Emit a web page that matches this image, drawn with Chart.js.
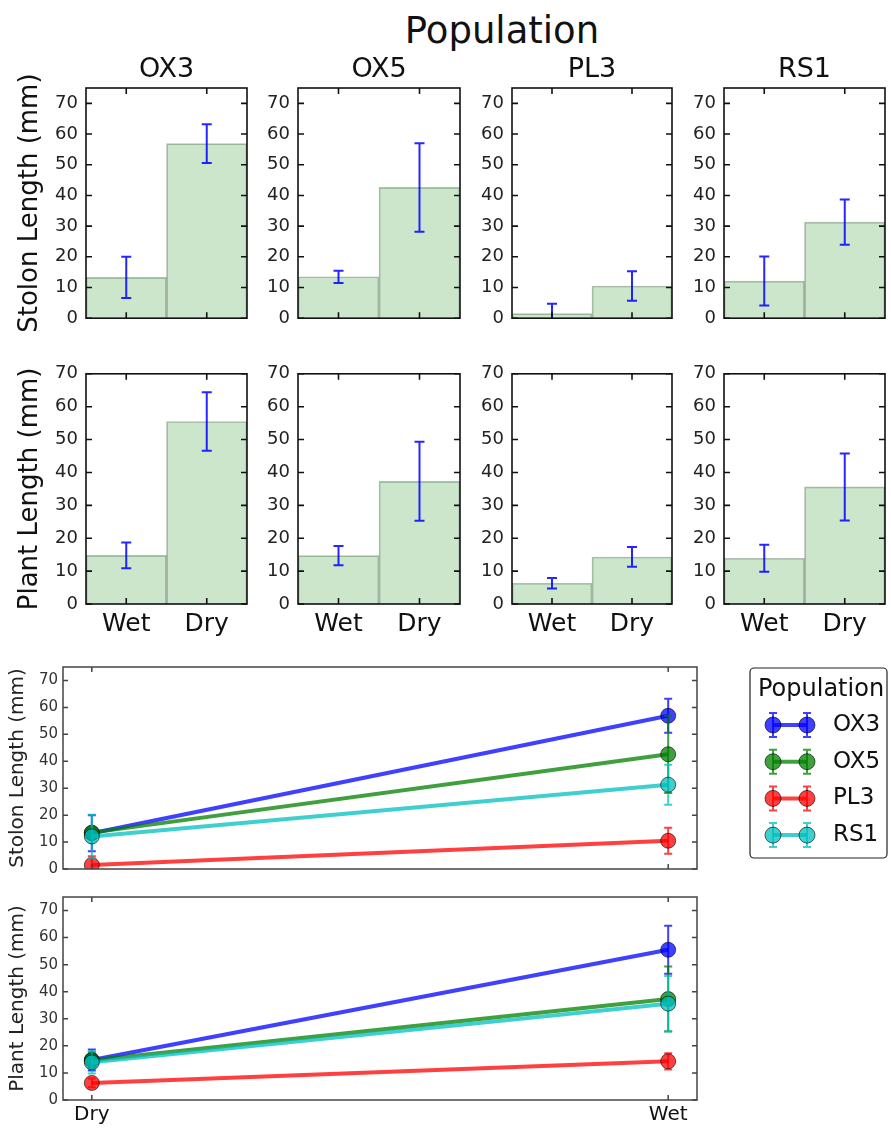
<!DOCTYPE html>
<html>
<head>
<meta charset="utf-8">
<script src="https://cdn.jsdelivr.net/npm/chart.js@4.4.1/dist/chart.umd.min.js"></script>
<style>
    body { margin: 0; background: #fff; }
    #wrap { position: relative; width: 891px; height: 1128px; overflow: hidden; font-family: "DejaVu Sans", sans-serif; }
    canvas { position: absolute; }
    #suptitle { position: absolute; left: 302px; top: 12px; width: 400px; text-align: center; font-size: 37px; line-height: 37px; color: #111; }
</style>
</head>
<body>
<div id="wrap"><div id="suptitle">Population</div></div>
<script>
// data
const populations = ['OX3', 'OX5', 'PL3', 'RS1'];
const conditions = ['Wet', 'Dry'];
const lineXLabels = ['Dry', 'Wet'];   // the bottom panels label the axis this way
const yTicks = [0, 10, 20, 30, 40, 50, 60, 70];

const stolonWet = [13.3, 13.5, 1.5, 12.1];
const stolonDry = [56.9, 42.6, 10.5, 31.3];
const stolonWetErr = [6.7, 2.0, 3.2, 8.0];
const stolonDryErr = [6.3, 14.4, 4.8, 7.4];

const plantWet = [14.8, 14.7, 6.3, 13.9];
const plantDry = [55.5, 37.3, 14.3, 35.6];
const plantWetErr = [3.9, 2.9, 1.6, 4.1];
const plantDryErr = [8.9, 12.0, 3.0, 10.2];

const lineColors = ['rgba(0,0,255,0.75)', 'rgba(0,128,0,0.75)', 'rgba(255,0,0,0.75)', 'rgba(0,191,191,0.75)'];

Chart.defaults.font.family = '"DejaVu Sans", sans-serif';
Chart.defaults.color = '#1a1a1a';

// matplotlib-like box with inward ticks on all four sides
const framePlugin = {
    id: 'frame',
    defaults: { color: '#111', width: 1.6, tick: 6 },
    afterDraw(chart, args, opts) {
        const { ctx, chartArea: a, scales } = chart;
        ctx.save();
        ctx.strokeStyle = opts.color;
        ctx.lineWidth = opts.width;
        ctx.beginPath();
        scales.y.ticks.forEach((t, i) => {
            const py = scales.y.getPixelForTick(i);
            ctx.moveTo(a.left, py); ctx.lineTo(a.left + opts.tick, py);
            ctx.moveTo(a.right, py); ctx.lineTo(a.right - opts.tick, py);
        });
        scales.x.ticks.forEach((t, i) => {
            const px = scales.x.getPixelForTick(i);
            ctx.moveTo(px, a.bottom); ctx.lineTo(px, a.bottom - opts.tick);
            ctx.moveTo(px, a.top); ctx.lineTo(px, a.top + opts.tick);
        });
        ctx.stroke();
        ctx.strokeRect(a.left, a.top, a.right - a.left, a.bottom - a.top);
        ctx.restore();
    }
};

function drawErrors(chart, di, opts) {
    const ds = chart.data.datasets[di];
    if (!ds.errors) return;
    const { ctx, chartArea: a } = chart;
    const yScale = chart.scales.y;
    const meta = chart.getDatasetMeta(di);
    ctx.save();
    ctx.beginPath();
    ctx.rect(a.left, a.top, a.right - a.left, a.bottom - a.top);
    ctx.clip();
    ctx.strokeStyle = opts.color || ds.borderColor;
    ctx.lineWidth = opts.width;
    meta.data.forEach((el, i) => {
        const d = ds.data[i];
        const v = typeof d === 'object' ? d.y : d;
        const e = ds.errors[i];
        const yTop = yScale.getPixelForValue(v + e);
        const yBot = yScale.getPixelForValue(v - e);
        ctx.beginPath();
        ctx.moveTo(el.x, yTop); ctx.lineTo(el.x, yBot);
        ctx.moveTo(el.x - opts.cap, yTop); ctx.lineTo(el.x + opts.cap, yTop);
        ctx.moveTo(el.x - opts.cap, yBot); ctx.lineTo(el.x + opts.cap, yBot);
        ctx.stroke();
    });
    ctx.restore();
}

const errorBarPlugin = {
    id: 'errorBars',
    defaults: { under: false, width: 2, cap: 5, color: null },
    beforeDatasetDraw(chart, args, opts) { if (opts.under) drawErrors(chart, args.index, opts); },
    afterDatasetDraw(chart, args, opts) { if (!opts.under) drawErrors(chart, args.index, opts); }
};

// boxed legend with errorbar markers, like the matplotlib one
const boxLegendPlugin = {
    id: 'boxLegend',
    defaults: { display: false },
    afterDraw(chart, args, o) {
        if (!o.display) return;
        const ctx = chart.ctx;
        ctx.save();
        ctx.beginPath();
        ctx.roundRect(o.x, o.y, o.w, o.h, 4);
        ctx.fillStyle = '#fff';
        ctx.fill();
        ctx.strokeStyle = '#222';
        ctx.lineWidth = 1.2;
        ctx.stroke();
        ctx.fillStyle = '#111';
        ctx.textBaseline = 'middle';
        ctx.font = '24px "DejaVu Sans"';
        ctx.fillText(o.title, o.x + 8, o.titleY);
        ctx.font = '23px "DejaVu Sans"';
        chart.data.datasets.forEach((ds, i) => {
            const cy = o.rowY + i * o.rowGap;
            ctx.strokeStyle = ds.borderColor;
            ctx.lineWidth = 4;
            ctx.beginPath();
            ctx.moveTo(o.m1, cy); ctx.lineTo(o.m2, cy);
            ctx.stroke();
            [o.m1, o.m2].forEach(mx => {
                ctx.lineWidth = 2;
                ctx.beginPath();
                ctx.moveTo(mx, cy - 12); ctx.lineTo(mx, cy + 12);
                ctx.moveTo(mx - 4, cy - 12); ctx.lineTo(mx + 4, cy - 12);
                ctx.moveTo(mx - 4, cy + 12); ctx.lineTo(mx + 4, cy + 12);
                ctx.stroke();
                ctx.beginPath();
                ctx.arc(mx, cy, 8, 0, Math.PI * 2);
                ctx.fillStyle = ds.pointBackgroundColor;
                ctx.fill();
                ctx.strokeStyle = 'rgba(0,0,0,0.6)';
                ctx.lineWidth = 1;
                ctx.stroke();
                ctx.strokeStyle = ds.borderColor;
            });
            ctx.fillStyle = '#111';
            ctx.fillText(ds.label, o.textX, cy);
        });
        ctx.restore();
    }
};

Chart.register(framePlugin, errorBarPlugin, boxLegendPlugin);

const wrap = document.getElementById('wrap');
function makeCanvas(left, top, w, h) {
    const c = document.createElement('canvas');
    c.width = w; c.height = h;
    c.style.left = left + 'px';
    c.style.top = top + 'px';
    wrap.appendChild(c);
    return c;
}

// plot box positions in the page
const colLeft = [86, 298, 512, 724];
const colRight = [247, 460, 672, 885];

function barPanel(col, row, wet, dry, wetErr, dryErr) {
    const first = col === 0;
    const yW = first ? 86 : 45;
    const left = colLeft[col] - yW;
    const width = yW + (colRight[col] - colLeft[col]) + 6;
    const top = row === 0 ? 56 : 355;
    const padTop = row === 0 ? 0 : 14;
    const xH = row === 0 ? 14 : 40;
    const height = (row === 0 ? 32 : 14) + 235 + xH;
    const canvas = makeCanvas(left, top, width, height);

    new Chart(canvas, {
        type: 'bar',
        data: {
            labels: conditions,
            datasets: [{
                data: [wet, dry],
                errors: [wetErr, dryErr],
                backgroundColor: 'rgba(0,128,0,0.2)',
                borderColor: 'rgba(0,40,0,0.3)',
                borderWidth: 1,
                barPercentage: 1,
                categoryPercentage: 1
            }]
        },
        options: {
            responsive: false,
            animation: false,
            devicePixelRatio: 1,
            layout: { padding: { top: padTop, right: 6, bottom: 0, left: 0 } },
            plugins: {
                legend: { display: false },
                tooltip: { enabled: false },
                title: {
                    display: row === 0,
                    text: populations[col],
                    fullSize: false,
                    color: '#111',
                    font: { size: 27, weight: 'normal', lineHeight: 1 },
                    padding: { top: 0, bottom: 5 }
                },
                frame: { tick: 6, width: 1.6, color: '#111' },
                errorBars: { color: 'rgba(0,0,255,0.85)', width: 2, cap: 5 }
            },
            scales: {
                x: {
                    grid: { display: false, drawTicks: false },
                    border: { display: false },
                    ticks: { display: row === 1, font: { size: 25 }, padding: 5, color: '#111' },
                    afterFit: s => { s.height = xH; }
                },
                y: {
                    min: 0,
                    max: row === 0 ? 75 : 70,
                    grid: { display: false, drawTicks: false },
                    border: { display: false },
                    afterBuildTicks: s => { s.ticks = yTicks.map(v => ({ value: v })); },
                    ticks: { font: { size: 18 }, padding: 8, color: '#222' },
                    title: {
                        display: first,
                        text: row === 0 ? 'Stolon Length (mm)' : 'Plant Length (mm)',
                        color: '#111',
                        font: { size: 26, lineHeight: 1 },
                        padding: { top: 17, bottom: 0 }
                    },
                    afterFit: s => { s.width = yW; }
                }
            }
        }
    });
}

populations.forEach((p, i) => {
    barPanel(i, 0, stolonWet[i], stolonDry[i], stolonWetErr[i], stolonDryErr[i]);
    barPanel(i, 1, plantWet[i], plantDry[i], plantWetErr[i], plantDryErr[i]);
});

function linePanel(top, plotH, xH, showX, title, wet, dry, wetErr, dryErr, withLegend) {
    const canvas = makeCanvas(0, top, 891, 12 + plotH + xH);
    const datasets = populations.map((p, i) => ({
        label: p,
        data: [{ x: 0, y: wet[i] }, { x: 1, y: dry[i] }],
        errors: [wetErr[i], dryErr[i]],
        borderColor: lineColors[i],
        backgroundColor: lineColors[i],
        borderWidth: 4,
        pointRadius: 7.5,
        pointBackgroundColor: lineColors[i],
        pointBorderColor: 'rgba(0,0,0,0.6)',
        pointBorderWidth: 1,
        order: populations.length - i
    }));

    new Chart(canvas, {
        type: 'line',
        data: { datasets },
        options: {
            responsive: false,
            animation: false,
            devicePixelRatio: 1,
            layout: { padding: { top: 12, right: 194, bottom: 0, left: 0 } },
            plugins: {
                legend: { display: false },
                tooltip: { enabled: false },
                frame: { tick: 5, width: 1.5, color: '#444' },
                errorBars: { under: true, width: 2, cap: 4 },
                boxLegend: {
                    display: withLegend, title: 'Population',
                    x: 750, y: 15, w: 137, h: 190, titleY: 37,
                    rowY: 72, rowGap: 36.7, m1: 773, m2: 807, textX: 833
                }
            },
            scales: {
                x: {
                    type: 'linear',
                    min: -0.05,
                    max: 1.05,
                    grid: { display: false, drawTicks: false },
                    border: { display: false },
                    afterBuildTicks: s => { s.ticks = lineXLabels.map((l, i) => ({ value: i })); },
                    ticks: { display: showX, callback: (v, i) => lineXLabels[i], font: { size: 20 }, padding: 3, color: '#111' },
                    afterFit: s => { s.height = xH; }
                },
                y: {
                    min: 0,
                    max: 75,
                    grid: { display: false, drawTicks: false },
                    border: { display: false },
                    afterBuildTicks: s => { s.ticks = yTicks.map(v => ({ value: v })); },
                    ticks: { font: { size: 15 }, padding: 5, color: '#333' },
                    title: { display: true, text: title, color: '#222', font: { size: 20, lineHeight: 1 }, padding: { top: 8, bottom: 0 } },
                    afterFit: s => { s.width = 63; }
                }
            }
        }
    });
}

linePanel(653, 206, 12, false, 'Stolon Length (mm)', stolonWet, stolonDry, stolonWetErr, stolonDryErr, true);
linePanel(883, 205, 28, true, 'Plant Length (mm)', plantWet, plantDry, plantWetErr, plantDryErr, false);
</script>
</body>
</html>
